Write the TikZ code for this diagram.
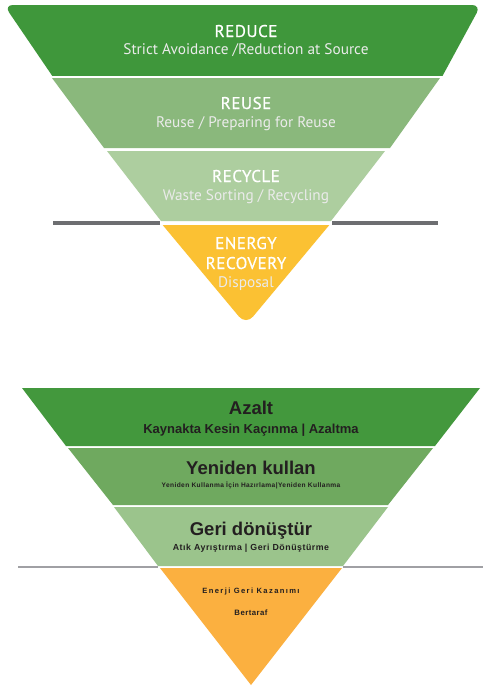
\documentclass[tikz,border=0pt]{standalone}
\usepackage{fontspec}
\newfontfamily\dinfont{PT Sans}
\newfontfamily\dintitlefont[FakeBold=0.7,LetterSpace=3]{PT Sans}
\newfontfamily\arialfont{Liberation Sans}
\definecolor{cReduce}{HTML}{3F973B}
\definecolor{cReuse}{HTML}{8AB87C}
\definecolor{cRecycle}{HTML}{ADCE9F}
\definecolor{cEnergy}{HTML}{FBC133}
\definecolor{cGrayTop}{HTML}{6D6E71}
\definecolor{cAzalt}{HTML}{43983D}
\definecolor{cYeniden}{HTML}{6FA95F}
\definecolor{cGeri}{HTML}{9BC48C}
\definecolor{cOrange}{HTML}{FBB040}
\definecolor{cGrayBot}{HTML}{A0A0A4}
\definecolor{cTextDark}{HTML}{231F20}
\begin{document}
\begin{tikzpicture}[x=1pt,y=-1pt,
  toptitle/.style={text=white,inner sep=0pt,anchor=base,font=\dintitlefont\fontsize{17}{17}\selectfont},
  topsub/.style={text=white!92!black,inner sep=0pt,anchor=base,font=\dinfont\fontsize{15.3}{16}\selectfont},
  bottitle/.style={text=cTextDark,inner sep=0pt,anchor=base,font=\arialfont\bfseries\fontsize{18.5}{19}\selectfont},
  botsub/.style={text=cTextDark,inner sep=0pt,anchor=base,font=\arialfont\bfseries},
]
\useasboundingbox (0,0) rectangle (483,686);
\fill[white] (0,0) rectangle (483,686);

% ---------- top pyramid ----------
% REDUCE band (rounded top corners)
\begin{scope}
  \clip (0,0) rectangle (483,75);
  \fill[cReduce,rounded corners=9pt] (4,5) -- (481,5) -- (430,99) -- (68,99) -- cycle;
\end{scope}
% REUSE
\fill[cReuse] (52,78) -- (440,78) -- (390,148) -- (104,148) -- cycle;
% RECYCLE
\fill[cRecycle] (107,151) -- (385,151) -- (331,221) -- (161,221) -- cycle;
% gray separator
\draw[cGrayTop,line width=4pt] (53,223) -- (160,223);
\draw[cGrayTop,line width=4pt] (332,223) -- (438,223);
% ENERGY RECOVERY (rounded tip)
\begin{scope}
  \clip (0,225) rectangle (483,340);
  \fill[cEnergy,rounded corners=11pt] (146,205) -- (346,205) -- (246,325) -- cycle;
\end{scope}

\node[toptitle] (reduce) at (246,37) {REDUCE};
\node[topsub] (reducesub) at (246,54) {Strict Avoidance /Reduction at Source};
\node[toptitle] (reuse) at (246,109) {REUSE};
\node[topsub] (reusesub) at (246,127) {Reuse / Preparing for Reuse};
\node[toptitle] (recycle) at (246,182) {RECYCLE};
\node[topsub] (recyclesub) at (246,200) {Waste Sorting / Recycling};
\node[toptitle] (energy1) at (246,249) {ENERGY};
\node[toptitle] (energy2) at (246,269) {RECOVERY};
\node[topsub] (disposal) at (246,287) {Disposal};

% ---------- bottom pyramid ----------
\fill[cAzalt] (22,388) -- (480,388) -- (435,446) -- (66,446) -- cycle;
\fill[cYeniden] (68,448) -- (433,448) -- (388,505) -- (113,505) -- cycle;
\fill[cGeri] (114,507) -- (388,507) -- (343,566) -- (158,566) -- cycle;
\draw[cGrayBot,line width=2pt] (18,567) -- (158,567);
\draw[cGrayBot,line width=2pt] (343,567) -- (483,567);
\fill[cOrange] (160,568) -- (342,568) -- (251,685) -- cycle;

\node[bottitle] (azalt) at (251,414) {Azalt};
\node[botsub,font=\arialfont\bfseries\fontsize{13}{13}\selectfont] (azaltsub) at (251,433) {Kaynakta Kesin Kaçınma | Azaltma};
\node[bottitle] (yeniden) at (251,474) {Yeniden kullan};
\node[botsub,font=\arialfont\bfseries\fontsize{6.6}{7}\selectfont\addfontfeature{LetterSpace=6}] (yenidensub) at (251,487.5) {Yeniden Kullanma İçin Hazırlama|Yeniden Kullanma};
\node[bottitle] (geri) at (251,535) {Geri dönüştür};
\node[botsub,font=\arialfont\bfseries\fontsize{8.8}{9}\selectfont\addfontfeature{LetterSpace=6}] (gerisub) at (251,550) {Atık Ayrıştırma | Geri Dönüştürme};
\node[botsub,font=\arialfont\bfseries\fontsize{7.6}{8}\selectfont\addfontfeature{LetterSpace=18}] (enerji) at (251,593) {Enerji Geri Kazanımı};
\node[botsub,font=\arialfont\bfseries\fontsize{7.8}{8}\selectfont\addfontfeature{LetterSpace=6}] (bertaraf) at (251,615) {Bertaraf};
\end{tikzpicture}
\end{document}
